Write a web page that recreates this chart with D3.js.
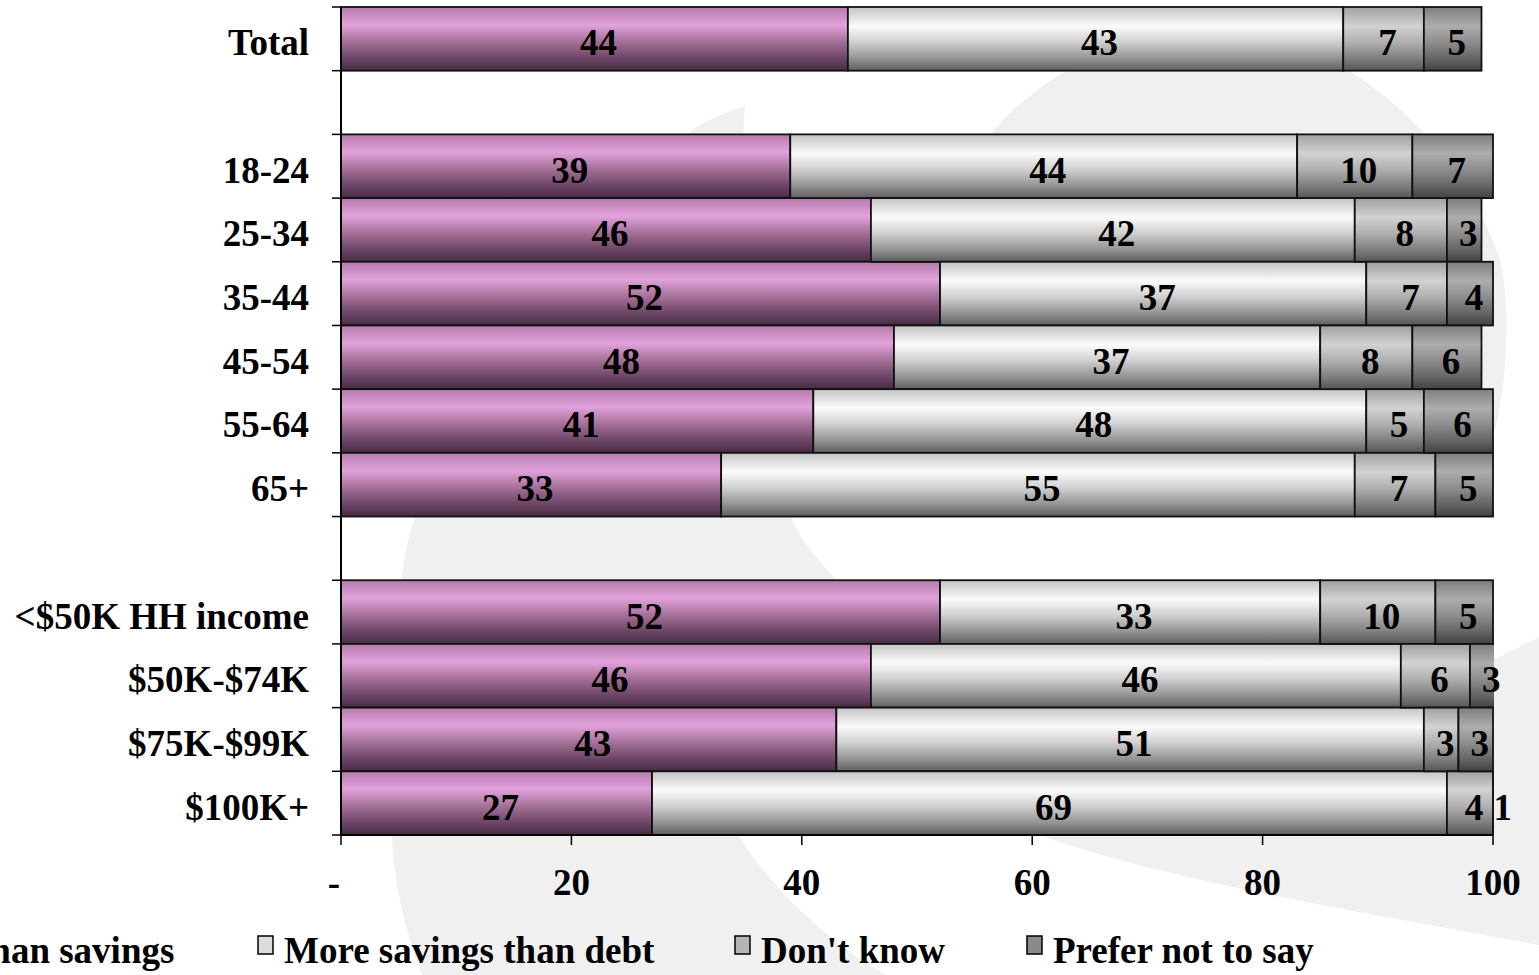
<!DOCTYPE html>
<html>
<head>
<meta charset="utf-8">
<script src="https://cdn.jsdelivr.net/npm/d3@7"></script>
<style>
  html, body { margin: 0; padding: 0; background: #ffffff; overflow: hidden; }
  svg { display: block; }
  text { font-family: "Liberation Serif", "Times New Roman", serif; font-weight: bold; fill: #000; }
</style>
</head>
<body>
<svg id="chart" width="1539" height="975"></svg>
<script>
// ---- data ----
const categories = ["Total", "gap1", "18-24", "25-34", "35-44", "45-54", "55-64", "65+", "gap2",
  "<$50K HH income", "$50K-$74K", "$75K-$99K", "$100K+"];
const seriesNames = ["More debt than savings", "More savings than debt", "Don't know", "Prefer not to say"];
const moreDebt    = [44, null, 39, 46, 52, 48, 41, 33, null, 52, 46, 43, 27];
const moreSavings = [43, null, 44, 42, 37, 37, 48, 55, null, 33, 46, 51, 69];
const dontKnow    = [7,  null, 10,  8,  7,  8,  5,  7, null, 10,  6,  3,  4];
const preferNot   = [5,  null,  7,  3,  4,  6,  6,  5, null,  5,  3,  3,  1];
const xTickValues = [0, 20, 40, 60, 80, 100];
const xTickLabels = ["-", "20", "40", "60", "80", "100"];

(function () {
// ---- layout ----
const W = 1539, H = 975;
const pL = 341, pR = 1493, pT = 7, pB = 835;
const svg = d3.select("#chart");
const defs = svg.append("defs");

// background watermark shapes
const bg = svg.append("g").attr("fill", "#f0f0f0");
bg.append("path").attr("d",
  "M745,106 C735,230 760,420 790,515 C805,550 830,575 860,600 L900,700 L738,835 " +
  "C780,900 840,950 887,975 L422,975 C405,930 393,880 392,835 C392,700 396,620 401,581 " +
  "C405,550 410,530 416,515 C470,350 580,220 684,136 C705,120 725,112 745,106 Z");
bg.append("path").attr("d",
  "M1215,30 C1340,30 1460,140 1500,260 C1510,300 1508,380 1495,430 L1000,430 " +
  "C940,380 930,250 960,180 C1000,100 1100,30 1215,30 Z");
bg.append("path").attr("d",
  "M1497,658 L1539,637 L1539,945 C1380,915 1160,880 1040,835 L1100,700 Z");

const x = d3.scaleLinear().domain([0, 100]).range([pL, pR]);
const y = d3.scaleBand().domain(categories).range([pT, pB]).padding(0);

const rows = categories.map((c, i) => ({
  cat: c,
  [seriesNames[0]]: moreDebt[i],
  [seriesNames[1]]: moreSavings[i],
  [seriesNames[2]]: dontKnow[i],
  [seriesNames[3]]: preferNot[i]
})).filter(r => r[seriesNames[0]] !== null);

const layers = d3.stack().keys(seriesNames)(rows);

// gradients
const grads = [
  [["0%", "#b57bad"], ["28%", "#e2a2dc"], ["55%", "#a47096"], ["80%", "#6e4668"], ["100%", "#472b43"]],
  [["0%", "#c4c4c4"], ["30%", "#fbfbfb"], ["55%", "#d0d0d0"], ["80%", "#959595"], ["100%", "#5e5e5e"]],
  [["0%", "#a0a0a0"], ["30%", "#d2d2d2"], ["55%", "#b0b0b0"], ["80%", "#808080"], ["100%", "#555555"]],
  [["0%", "#7e7e7e"], ["30%", "#adadad"], ["55%", "#8e8e8e"], ["80%", "#666666"], ["100%", "#424242"]]
];
grads.forEach((stops, i) => {
  const g = defs.append("linearGradient").attr("id", "g" + i)
    .attr("x1", 0).attr("y1", 0).attr("x2", 0).attr("y2", 1);
  stops.forEach(s => g.append("stop").attr("offset", s[0]).attr("stop-color", s[1]));
});
defs.append("clipPath").attr("id", "plotclip")
  .append("rect").attr("x", pL - 2).attr("y", 0).attr("width", pR - pL + 3).attr("height", H);

// bars
const barG = svg.append("g").attr("clip-path", "url(#plotclip)");
layers.forEach((layer, li) => {
  barG.append("g").selectAll("rect").data(layer).join("rect")
    .attr("x", d => x(d[0]))
    .attr("y", d => y(d.data.cat))
    .attr("width", d => x(d[1]) - x(d[0]))
    .attr("height", y.bandwidth())
    .attr("fill", `url(#g${li})`)
    .attr("stroke", "#111")
    .attr("stroke-width", 1.8);
});

// value labels
const labG = svg.append("g");
layers.forEach(layer => {
  labG.append("g").selectAll("text").data(layer).join("text")
    .attr("x", d => (x(d[0]) + x(d[1])) / 2 + 4)
    .attr("y", d => y(d.data.cat) + y.bandwidth() / 2 + 3.5)
    .attr("dy", "0.35em")
    .attr("text-anchor", "middle")
    .attr("font-size", 37)
    .text(d => d[1] - d[0]);
});

// y axis
const yAxis = svg.append("g");
yAxis.append("line").attr("x1", pL).attr("x2", pL).attr("y1", pT).attr("y2", pB)
  .attr("stroke", "#000").attr("stroke-width", 2);
const boundaries = categories.map(c => y(c)).concat([pB]);
yAxis.selectAll("line.tk").data(boundaries).join("line").attr("class", "tk")
  .attr("x1", pL - 9).attr("x2", pL).attr("y1", d => d).attr("y2", d => d)
  .attr("stroke", "#000").attr("stroke-width", 1.5);
yAxis.selectAll("text").data(categories.filter(c => !c.startsWith("gap"))).join("text")
  .attr("x", 309)
  .attr("y", d => y(d) + y.bandwidth() / 2 + 3.5)
  .attr("dy", "0.35em")
  .attr("text-anchor", "end")
  .attr("font-size", 37)
  .text(d => d);

// x axis
const xAxis = svg.append("g");
xAxis.append("line").attr("x1", pL).attr("x2", pR).attr("y1", pB).attr("y2", pB)
  .attr("stroke", "#000").attr("stroke-width", 2);
xAxis.selectAll("line.tk").data(xTickValues).join("line").attr("class", "tk")
  .attr("x1", d => x(d)).attr("x2", d => x(d)).attr("y1", pB).attr("y2", pB + 10)
  .attr("stroke", "#000").attr("stroke-width", 1.5);
xAxis.selectAll("text").data(xTickValues).join("text")
  .attr("x", (d, i) => i === 0 ? x(d) - 7 : x(d))
  .attr("y", 882)
  .attr("dy", "0.35em")
  .attr("text-anchor", "middle")
  .attr("font-size", 37)
  .text((d, i) => xTickLabels[i]);

// legend
const legendX = [-222, 258, 735, 1027];
const legendFill = ["#c588bd", "#dcdcdc", "#b4b4b4", "#8a8a8a"];
const lg = svg.append("g");
seriesNames.forEach((name, i) => {
  lg.append("rect").attr("x", legendX[i]).attr("y", 936).attr("width", 15).attr("height", 18)
    .attr("fill", legendFill[i]).attr("stroke", "#000").attr("stroke-width", 1.5);
  lg.append("text").attr("x", legendX[i] + 26).attr("y", 963)
    .attr("font-size", 37).text(name);
});
})();
</script>
</body>
</html>
